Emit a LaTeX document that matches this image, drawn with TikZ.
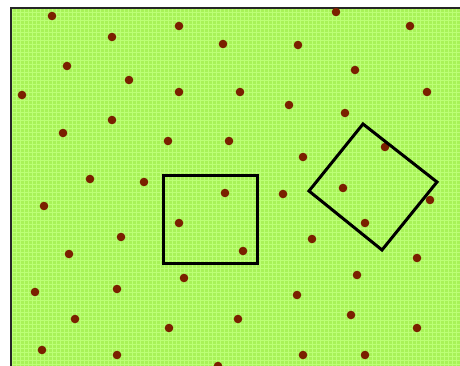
\documentclass[tikz,border=0pt]{standalone}
\usepackage{tikz}
\definecolor{gespa}{RGB}{168,242,88}
\definecolor{gespaclar}{RGB}{188,255,118}
\definecolor{llavor}{RGB}{122,32,0}
\begin{document}
\begin{tikzpicture}[x=1pt,y=-1pt,
        punt/.style={fill=llavor},
        quadrat/.style={line width=3pt,line join=miter}]
        \useasboundingbox (0,0) rectangle (460,366);
        % Fons: camp verd amb trama
        \fill[gespa] (11,8) rectangle (462,368);
        \draw[gespaclar,line width=0.8pt] (11,8) grid[step=4pt] (462,368);
        \draw[line width=2pt,black!85] (11,368) -- (11,8) -- (462,8);

        % Punts repartits pel camp
        \foreach \x/\y in {52/16,112/37,179/26,223/44,298/45,336/12,410/26,
                67/66,129/80,22/95,179/92,240/92,289/105,355/70,427/92,
                63/133,112/120,168/141,229/141,345/113,303/157,385/147,
                90/179,144/182,225/193,283/194,343/188,430/200,44/206,
                179/223,365/223,121/237,243/251,312/239,69/254,417/258,
                184/278,357/275,35/292,117/289,297/295,75/319,238/319,
                169/328,351/315,417/328,42/350,117/355,218/366,303/355,365/355}
            \fill[punt] (\x,\y) circle (4.3);

        % Quadrat recte
        \draw[quadrat] (163,176) rectangle (257,263);

        % Quadrat girat
        \draw[quadrat] (363,124) -- (437,182) -- (382,250) -- (309,191) -- cycle;
    \end{tikzpicture}
\end{document}
